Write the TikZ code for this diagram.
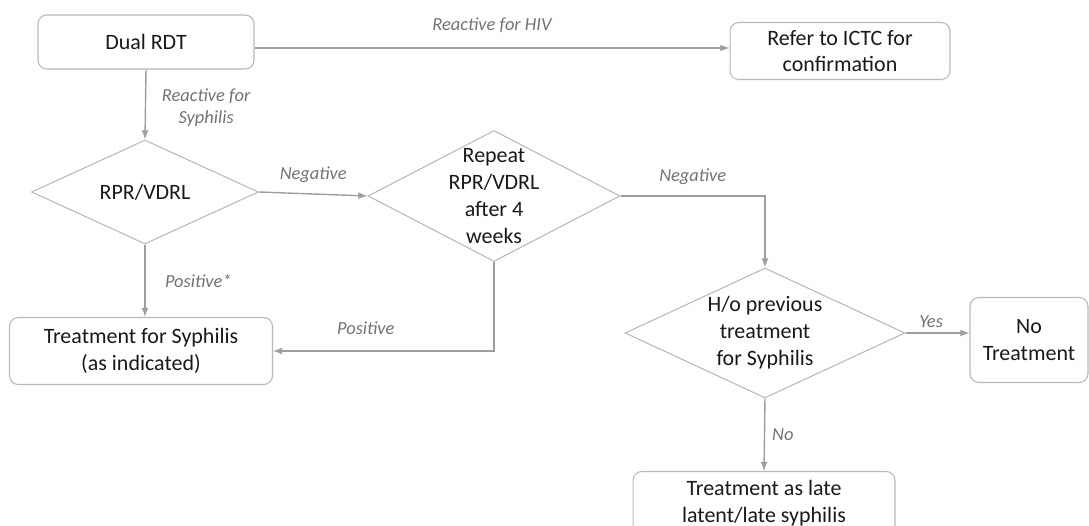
\documentclass[tikz,border=0pt]{standalone}
\usepackage{fontspec}
\setmainfont{Carlito}
\usetikzlibrary{shapes,arrows}
\tikzset{box/.style={draw=black!28, line width=0.6pt, rounded corners=5pt, align=center, text=black!90, font=\fontsize{12.5}{15}\selectfont},
  dec/.style={draw=black!28, line width=0.6pt, diamond, inner sep=0pt},
  dectext/.style={align=center, text=black!90, font=\fontsize{12.5}{15.3}\selectfont},
  lbl/.style={inner sep=1pt, text=black!55, font=\fontsize{10.5}{12.5}\selectfont\itshape, align=center},
  arr/.style={draw=black!38, line width=0.8pt, -latex}}

\begin{document}
\begin{tikzpicture}[x=0.02cm, y=-0.02cm]
\useasboundingbox (0,0) rectangle (1089,526);
\node[box, minimum width=4.32cm, minimum height=1.08cm] (dual) at (146,42) {Dual RDT};
\node[box, minimum width=4.4cm, minimum height=1.14cm] (refer) at (840,51) {Refer to ICTC for\\confirmation};
\node[dec, minimum width=4.54cm, minimum height=2.08cm, label={[dectext]center:RPR/VDRL}] (rpr) at (145,192) {};
\node[dec, minimum width=5.04cm, minimum height=2.62cm, label={[dectext]center:Repeat\\RPR/VDRL\\after 4\\weeks}] (repeat) at (494,196) {};
\node[dec, minimum width=5.6cm, minimum height=2.6cm, label={[dectext]center:H/o previous\\treatment\\for Syphilis}] (prev) at (765,333) {};
\node[box, minimum width=5.26cm, minimum height=1.34cm] (treat) at (141,351) {Treatment for Syphilis\\(as indicated)};
\node[box, minimum width=2.36cm, minimum height=1.7cm] (none) at (1029,340) {No\\Treatment};
\node[box, minimum width=5.24cm, minimum height=1.26cm] (late) at (764,503) {Treatment as late\\latent/late syphilis};

\draw[arr] ([yshift=-0.12cm]dual.east) -- node[lbl, above=7.5pt]{Reactive for HIV} ([yshift=-0.12cm]dual.east -| refer.west);
\draw[arr] (dual.south) -- node[lbl, right=8pt, pos=0.55]{Reactive for\\Syphilis} (rpr.north);
\draw[arr] (rpr.east) -- node[lbl, above=5pt]{Negative} (repeat.west);
\draw[arr] (rpr.south) -- node[lbl, right=10pt]{Positive*} (rpr.south |- treat.north);
\draw[arr] (repeat.east) -- node[lbl, above=5pt]{Negative} (repeat.east -| prev.north) -- (prev.north);
\draw[arr] (repeat.south) |- node[lbl, above=8pt, pos=0.79]{Positive} (treat.east);
\draw[arr] (prev.east) -- node[lbl, above=1.5pt, pos=0.4]{Yes} (none.west |- prev.east);
\draw[arr] (prev.south) -- node[lbl, right=3pt]{No} (late.north);
\end{tikzpicture}
\end{document}
